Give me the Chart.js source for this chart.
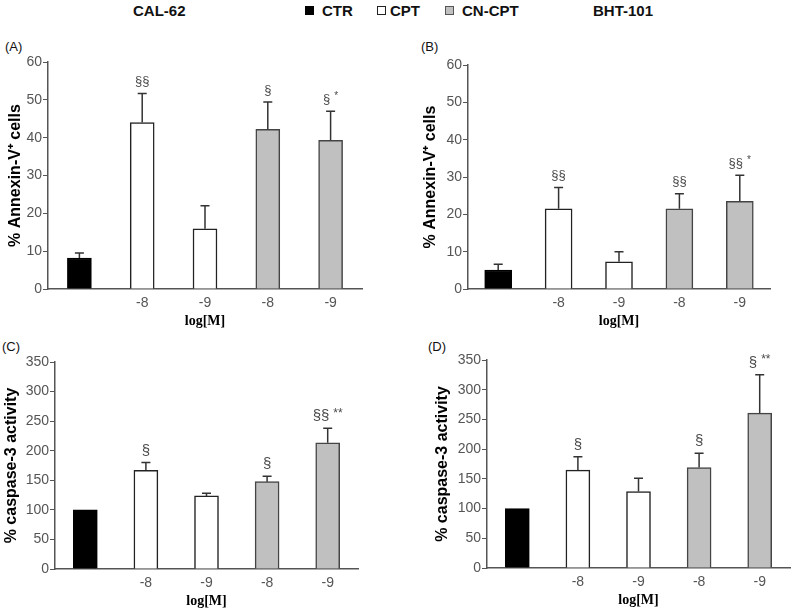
<!DOCTYPE html>
<html>
<head>
<meta charset="utf-8">
<script src="https://cdn.jsdelivr.net/npm/chart.js@4"></script>
<style>
  body { margin: 0; background: #fff; font-family: 'Liberation Sans', Arial, sans-serif; }
  #page { position: relative; width: 800px; height: 614px; overflow: hidden; }
  .panel { position: absolute; }
  .head { position: absolute; font-weight: bold; font-size: 15px; line-height: 18px; top: 2px; color: #111; }
  .box { position: absolute; top: 6px; width: 9px; height: 9px; box-sizing: border-box; }
  .lbl { position: absolute; font-size: 13px; line-height: 16px; color: #111; }
</style>
</head>
<body>
<div id="page">
  <div class="head" style="left:133px">CAL-62</div>
  <div class="head" style="left:593px">BHT-101</div>

  <div class="box" style="left:305px; background:#000"></div>
  <div class="head" style="left:322px">CTR</div>
  <div class="box" style="left:377px; background:#fff; border:1px solid #222"></div>
  <div class="head" style="left:390px">CPT</div>
  <div class="box" style="left:445px; background:#c0c0c0; border:1px solid #555"></div>
  <div class="head" style="left:462px">CN-CPT</div>

  <div class="lbl" style="left:5px; top:39px">(A)</div>
  <div class="lbl" style="left:421px; top:39px">(B)</div>
  <div class="lbl" style="left:2px; top:339px">(C)</div>
  <div class="lbl" style="left:428px; top:339px">(D)</div>

  <canvas class="panel" id="chartA" width="400" height="300" style="left:0; top:40px"></canvas>
  <canvas class="panel" id="chartB" width="400" height="300" style="left:400px; top:40px"></canvas>
  <canvas class="panel" id="chartC" width="400" height="274" style="left:0; top:340px"></canvas>
  <canvas class="panel" id="chartD" width="400" height="274" style="left:400px; top:340px"></canvas>
</div>

<script>
// x 카테고리 (CTR, CPT -8, CPT -9, CN-CPT -8, CN-CPT -9)
const groups = ['', '-8', '-9', '-8', '-9'];

// (A) CAL-62 Annexin-V
const annexinCal = [8.2, 44, 15.9, 42.2, 39.3];
const annexinCalErr = [1.3, 7.7, 6.1, 7.2, 7.7];
const annexinCalMarks = ['', '§§', '', '§', '§'];
const annexinCalStars = ['', '', '', '', '*'];

// (B) BHT-101 Annexin-V
const annexinBht = [5.1, 21.5, 7.3, 21.5, 23.5];
const annexinBhtErr = [1.5, 5.7, 2.7, 4.0, 7.0];
const annexinBhtMarks = ['', '§§', '', '§§', '§§'];
const annexinBhtStars = ['', '', '', '', '*'];

// (C) CAL-62 caspase-3
const caspCal = [100, 167, 123.6, 147.7, 213.5];
const caspCalErr = [0, 13, 4.5, 9.3, 24.3];
const caspCalMarks = ['', '§', '', '§', '§§'];
const caspCalStars = ['', '', '', '', '**'];

// (D) BHT-101 caspase-3
const caspBht = [100, 164.7, 128.7, 169, 260.5];
const caspBhtErr = [0, 22.3, 22.3, 24, 64.5];
const caspBhtMarks = ['', '§', '', '§', '§'];
const caspBhtStars = ['', '', '', '', '**'];

const annexinTicks = [0, 60, 10];
const caspTicks = [0, 350, 50];

const fillColors = ['#000000', '#ffffff', '#ffffff', '#c0c0c0', '#c0c0c0'];
const edgeColors = ['#000000', '#222222', '#222222', '#444444', '#444444'];
const sans = "'Liberation Sans', Arial, sans-serif";

// 에러바 + 유의성 표시
const errorBarPlugin = {
    id: 'errorBars',
    afterDatasetsDraw(chart) {
        const ctx = chart.ctx;
        const ds = chart.data.datasets[0];
        const meta = chart.getDatasetMeta(0);
        const yScale = chart.scales.y;
        ctx.save();
        meta.data.forEach((bar, i) => {
            const yTop = yScale.getPixelForValue(ds.data[i] + ds.errors[i]);
            if (ds.errors[i] > 0) {
                ctx.strokeStyle = '#333';
                ctx.lineWidth = 1.5;
                ctx.beginPath();
                ctx.moveTo(bar.x, bar.y);
                ctx.lineTo(bar.x, yTop);
                ctx.moveTo(bar.x - 4.5, yTop);
                ctx.lineTo(bar.x + 4.5, yTop);
                ctx.stroke();
            }
            const mark = ds.marks[i];
            if (!mark) return;
            const star = ds.stars[i];
            ctx.fillStyle = '#4a4a4a';
            ctx.textBaseline = 'middle';
            ctx.textAlign = 'left';
            ctx.font = ds.markSize + 'px ' + sans;
            const w1 = ctx.measureText(mark).width;
            let w2 = 0;
            const gap = star ? 4 : 0;
            if (star) {
                ctx.font = (ds.markSize - 3) + 'px ' + sans;
                w2 = ctx.measureText(star).width;
            }
            const x0 = bar.x - (w1 + gap + w2) / 2;
            const yText = yTop - 12;
            ctx.font = ds.markSize + 'px ' + sans;
            ctx.fillText(mark, x0, yText);
            if (star) {
                ctx.font = (ds.markSize - 3) + 'px ' + sans;
                ctx.fillText(star, x0 + w1 + gap, yText - 3);
            }
        });
        ctx.restore();
    }
};

function makePanel(id, values, errors, marks, stars, yRange, yTitle, cfg) {
    new Chart(document.getElementById(id).getContext('2d'), {
        type: 'bar',
        data: {
            labels: groups,
            datasets: [{
                data: values,
                errors: errors,
                marks: marks,
                stars: stars,
                markSize: cfg.markSize,
                backgroundColor: fillColors,
                borderColor: edgeColors,
                borderWidth: 1.5,
                barThickness: cfg.bar
            }]
        },
        options: {
            responsive: false,
            devicePixelRatio: 1,
            animation: false,
            layout: {
                padding: { left: 0, top: cfg.top, right: cfg.right, bottom: cfg.bottom }
            },
            plugins: {
                legend: { display: false },
                tooltip: { enabled: false }
            },
            scales: {
                x: {
                    type: 'category',
                    grid: { display: false, drawTicks: false },
                    border: { display: true, color: '#555', width: 1.5 },
                    ticks: {
                        color: '#555',
                        padding: 6,
                        font: { family: sans, size: 14 }
                    },
                    title: {
                        display: true,
                        text: 'log[M]',
                        color: '#000',
                        padding: 0,
                        font: { family: "'Liberation Serif', 'Times New Roman', serif", size: 14, weight: 'bold' }
                    },
                    afterFit: scale => { scale.height = 41; }
                },
                y: {
                    min: yRange[0],
                    max: yRange[1],
                    grid: {
                        display: true,
                        drawOnChartArea: false,
                        drawTicks: true,
                        tickLength: 5,
                        color: '#555'
                    },
                    border: { display: true, color: '#555', width: 1.5 },
                    ticks: {
                        stepSize: yRange[2],
                        color: '#555',
                        padding: 1,
                        font: { family: sans, size: 14 }
                    },
                    title: {
                        display: true,
                        text: yTitle,
                        color: '#000',
                        padding: { top: cfg.titlePad, bottom: 0 },
                        font: { family: sans, size: 16, weight: 'bold' }
                    },
                    afterFit: scale => { scale.width = cfg.yWidth; }
                }
            }
        },
        plugins: [errorBarPlugin]
    });
}

document.addEventListener('DOMContentLoaded', function() {
    makePanel('chartA', annexinCal, annexinCalErr, annexinCalMarks, annexinCalStars,
        annexinTicks, '% Annexin-V⁺ cells',
        { top: 22, right: 38, bottom: 10, yWidth: 48, titlePad: 6, bar: 24, markSize: 13 });
    makePanel('chartB', annexinBht, annexinBhtErr, annexinBhtMarks, annexinBhtStars,
        annexinTicks, '% Annexin-V⁺ cells',
        { top: 25, right: 30, bottom: 10, yWidth: 68, titlePad: 21, bar: 27, markSize: 13 });
    makePanel('chartC', caspCal, caspCalErr, caspCalMarks, caspCalStars,
        caspTicks, '% caspase-3 activity',
        { top: 22, right: 42, bottom: 4, yWidth: 55, titlePad: 1.5, bar: 24, markSize: 15 });
    makePanel('chartD', caspBht, caspBhtErr, caspBhtMarks, caspBhtStars,
        caspTicks, '% caspase-3 activity',
        { top: 20, right: 10, bottom: 5, yWidth: 87, titlePad: 33, bar: 24, markSize: 15 });
});
</script>
</body>
</html>
